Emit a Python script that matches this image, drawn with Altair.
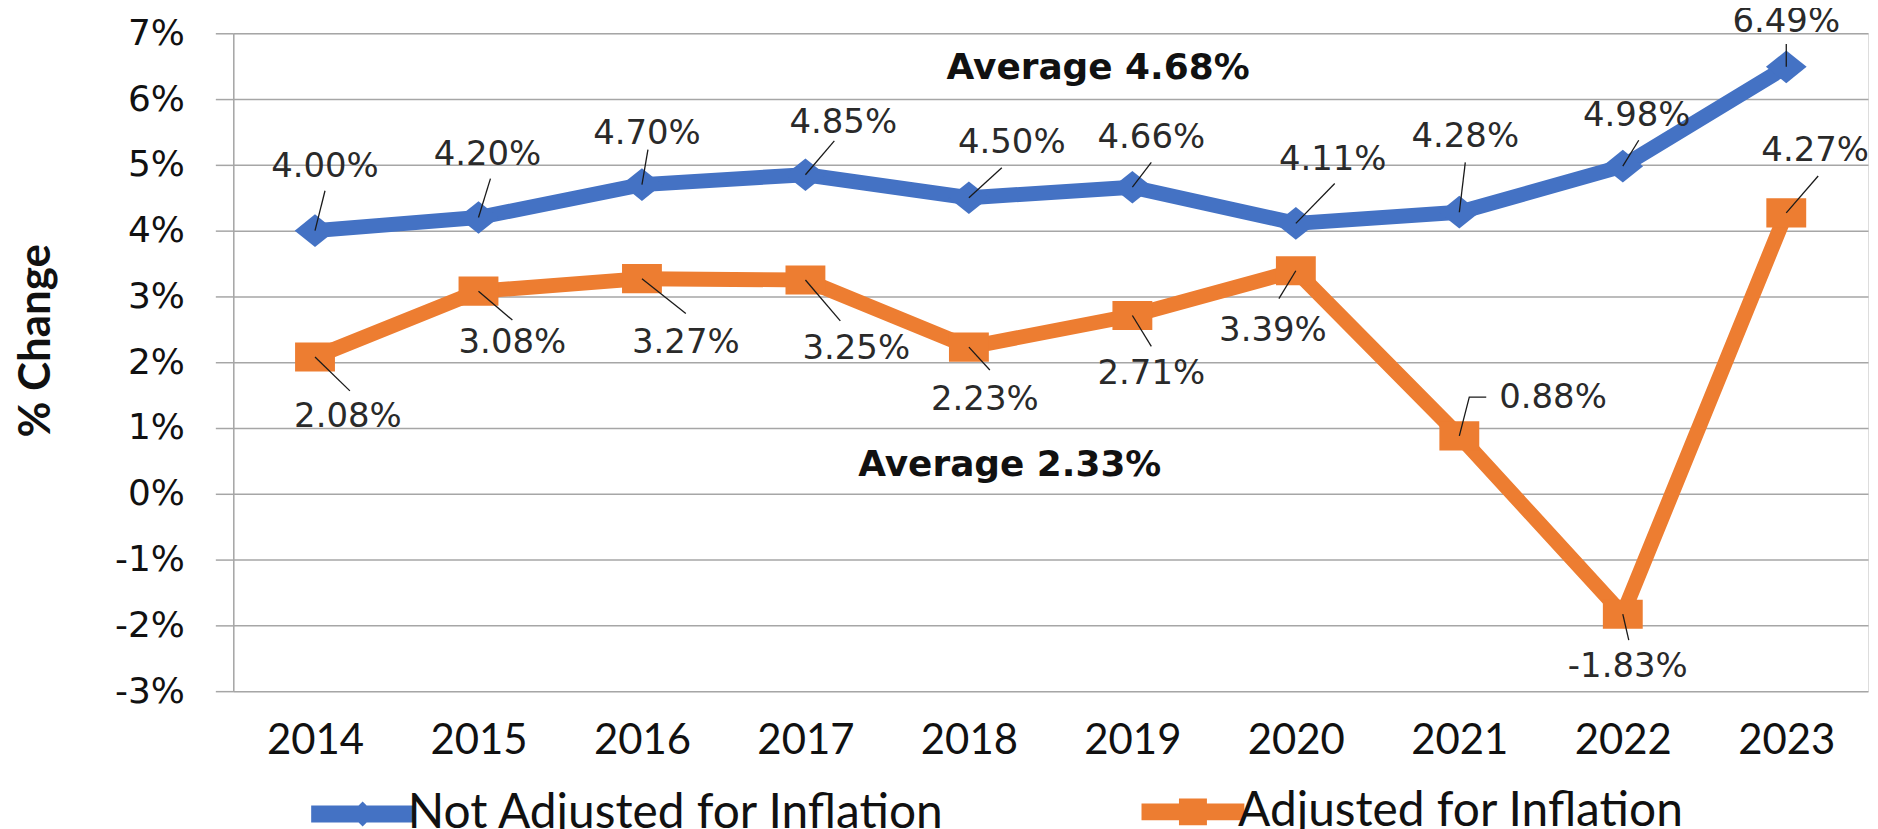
import altair as alt
import pandas as pd

# ---------------- data ----------------
YEARS = [2014, 2015, 2016, 2017, 2018, 2019, 2020, 2021, 2022, 2023]
SERIES = ["Not Adjusted for Inflation", "Adjusted for Inflation"]
NOT_ADJUSTED = [4.00, 4.20, 4.70, 4.85, 4.50, 4.66, 4.11, 4.28, 4.98, 6.49]
ADJUSTED = [2.08, 3.08, 3.27, 3.25, 2.23, 2.71, 3.39, 0.88, -1.83, 4.27]
Y_TICKS = [-3, -2, -1, 0, 1, 2, 3, 4, 5, 6, 7]
AVG_TEXT = ["Average 4.68%", "Average 2.33%"]
AVG_X = [2018.79, 2018.25]
AVG_Y = [6.47, 0.44]

# ---------------- style ----------------
COLORS = ["#4472C4", "#ED7D31"]
W, H = 1640, 660
X_DOMAIN = [2013.5, 2023.5]
Y_DOMAIN = [-3, 7]
PX_X = W / (X_DOMAIN[1] - X_DOMAIN[0])
PX_Y = H / (Y_DOMAIN[1] - Y_DOMAIN[0])

# label placement, pixel offsets from each point (text centre, leader end, optional elbow)
LBL = {
    SERIES[0]: dict(
        dx=[10, 9, 5, 38, 43, 19, 37, 6, 14, 0],
        dy=[-64, -63, -51, -52, -55, -49, -64, -75, -50, -45],
        lx=[10, 12, 6, 29, 33, 19, 39, 6, 16, 0],
        ly=[-40, -39, -35, -34, -30, -25, -40, -50, -26, -23],
        elbow={},
    ),
    SERIES[1]: dict(
        dx=[33, 34, 44, 51, 16, 19, -23, 94, 5, 29],
        dy=[60, 52, 65, 69, 53, 59, 60, -38, 53, -62],
        lx=[35, 34, 44, 35, 21, 19, -17, 27, 6, 32],
        ly=[34, 29, 35, 41, 23, 31, 28, -39, 26, -37],
        elbow={7: (10, -39)},
    ),
}

rows, lead = [], []
for s, vals in zip(SERIES, [NOT_ADJUSTED, ADJUSTED]):
    o = LBL[s]
    for i, (yr, v) in enumerate(zip(YEARS, vals)):
        rows.append(dict(
            year=yr, value=v, series=s, label=f"{v:.2f}%",
            lx=yr + o["dx"][i] / PX_X, ly=v - o["dy"][i] / PX_Y,
        ))
        key = f"{s}-{yr}"
        pts = [(0, 0)]
        if i in o["elbow"]:
            pts.append(o["elbow"][i])
        pts.append((o["lx"][i], o["ly"][i]))
        for k, (px, py) in enumerate(pts):
            lead.append(dict(key=key, ord=k, x=yr + px / PX_X, y=v - py / PX_Y))

df = pd.DataFrame(rows)
lead_df = pd.DataFrame(lead)
avg_df = pd.DataFrame(dict(text=AVG_TEXT, x=AVG_X, y=AVG_Y))

x_scale = alt.Scale(domain=X_DOMAIN, nice=False, zero=False)
y_scale = alt.Scale(domain=Y_DOMAIN, nice=False, zero=False)

x_enc = alt.X("year:Q", scale=x_scale, title=None,
              axis=alt.Axis(values=YEARS, format="d", grid=False, domain=False, ticks=False,
                            labelFont="Lato", labelFontSize=42, labelColor="#111111",
                            labelPadding=30, labelFlush=False))
y_enc = alt.Y("value:Q", scale=y_scale, title="% Change",
              axis=alt.Axis(values=Y_TICKS, labelExpr="datum.value + '%'",
                            labelFont="DejaVu Sans", labelFontSize=36, labelColor="#111111",
                            labelPadding=31, tickSize=18, tickColor="#a6a6a6", tickWidth=1.5,
                            domainColor="#a6a6a6", domainWidth=1.5,
                            gridColor="#a6a6a6", gridWidth=1.5,
                            titleFont="Lato", titleFontSize=44, titleFontWeight="bold",
                            titleColor="#111111", titlePadding=56, titleY=308))

# legend symbols: a thick stroked line with a diamond / square in its middle
LINE_PATH = "M-6.07,0L2.53,0"
DIAMOND_SYM = LINE_PATH + "M-1.82,0L-1.77,-0.05L-1.72,0L-1.77,0.05Z"
SQUARE_SYM = LINE_PATH + "M-2.23,-0.4L-1.31,-0.4L-1.31,0.4L-2.23,0.4Z"

legend = alt.Legend(
    title=None, orient="none", legendX=127, legendY=757, direction="horizontal",
    columns=2, columnPadding=162, padding=0, symbolSize=576, labelOffset=0,
    labelFont="Lato", labelFontSize=48, labelColor="#111111", labelLimit=1000,
    symbolStrokeWidth=17, symbolOpacity=1,
)

color_scale = alt.Scale(domain=SERIES, range=COLORS)

base = alt.Chart(df)

lines = base.mark_line(strokeWidth=15, strokeJoin="round").encode(
    x=x_enc, y=y_enc, color=alt.Color("series:N", scale=color_scale, legend=legend),
    detail="series:N")

# invisible layer that only supplies the legend symbols
legend_src = base.mark_point(filled=False, opacity=0, size=576).encode(
    x="year:Q", y="value:Q",
    color=alt.Color("series:N", scale=color_scale, legend=legend),
    shape=alt.Shape("series:N", scale=alt.Scale(domain=SERIES, range=[DIAMOND_SYM, SQUARE_SYM]),
                    legend=legend),
)

DIAMOND = "M-1.02,0L0,-0.82L1.02,0L0,0.82Z"
SQUARE = "M-1,-0.73L1,-0.73L1,0.73L-1,0.73Z"
point_layers = [
    base.transform_filter(alt.datum.series == s).mark_point(
        filled=True, size=1600, opacity=1, strokeWidth=0, shape=shp, color=c
    ).encode(x="year:Q", y="value:Q")
    for s, shp, c in zip(SERIES, [DIAMOND, SQUARE], COLORS)
]

leaders = alt.Chart(lead_df).mark_line(color="#1a1a1a", strokeWidth=1.3).encode(
    x="x:Q", y="y:Q", detail="key:N", order="ord:Q")

labels = base.mark_text(font="DejaVu Sans", fontSize=34, color="#2a2a2a",
                        align="center", baseline="middle").encode(
    x="lx:Q", y="ly:Q", text="label:N")

avg = alt.Chart(avg_df).mark_text(font="DejaVu Sans", fontSize=36, fontWeight="bold",
                                  color="#111111", align="center", baseline="middle").encode(
    x="x:Q", y="y:Q", text="text:N")

chart = alt.layer(lines, legend_src, *point_layers, leaders, labels, avg).properties(
    width=W, height=H,
    padding={"left": 6, "top": -5, "right": 0, "bottom": 0},
).configure_view(stroke=None).configure(background="white")

chart.save("out.html", embed_options={"renderer": "svg", "actions": False})
